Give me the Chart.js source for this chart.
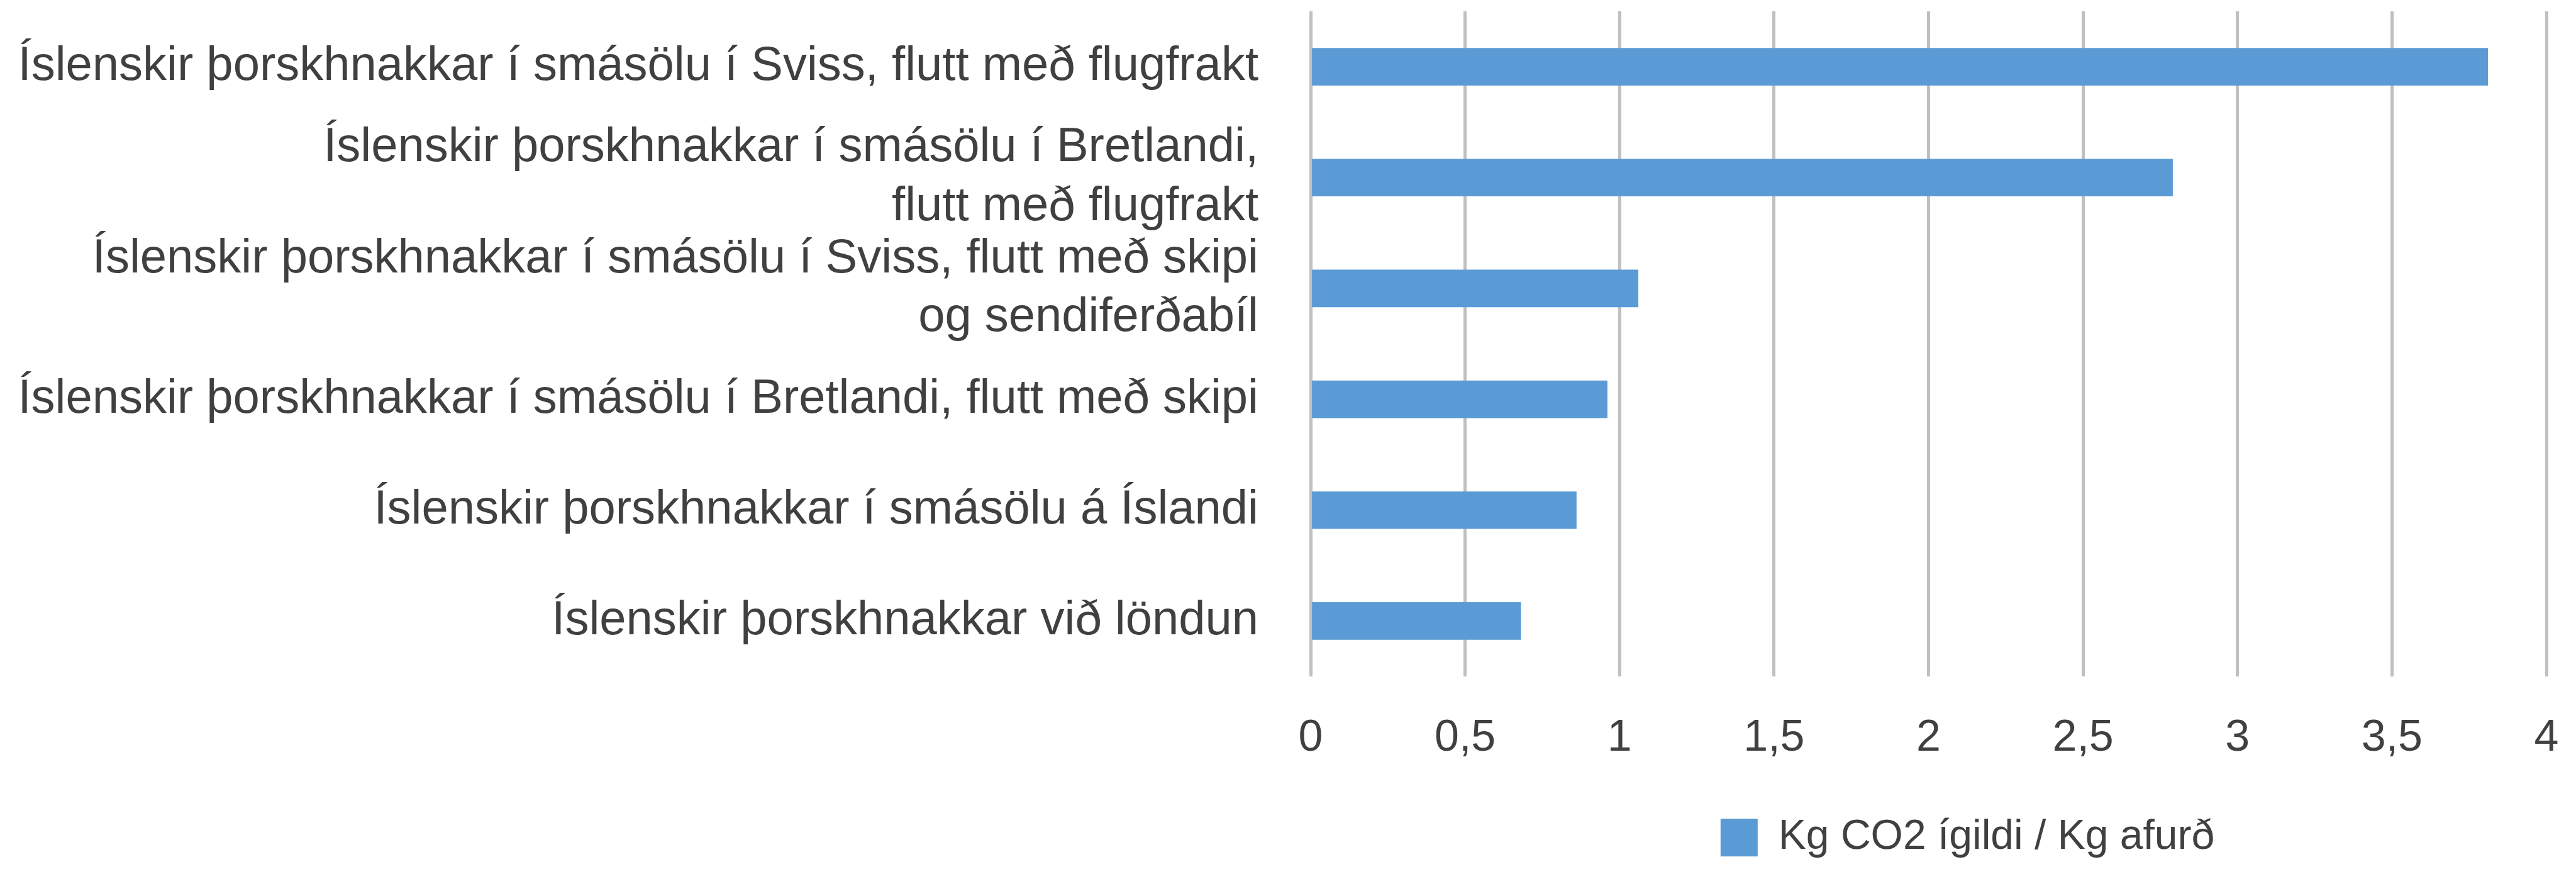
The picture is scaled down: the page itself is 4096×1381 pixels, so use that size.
<!DOCTYPE html>
<html><head><meta charset="utf-8">
<script src="https://cdn.jsdelivr.net/npm/chart.js@4.4.0/dist/chart.umd.min.js"></script>
<style>html,body{margin:0;padding:0;background:#fff;overflow:hidden}</style>
</head><body>
<canvas id="c" width="4096" height="1381"></canvas>
<script>
const categories = [
  'Íslenskir þorskhnakkar í smásölu í Sviss, flutt með flugfrakt',
  ['Íslenskir þorskhnakkar í smásölu í Bretlandi,', 'flutt með flugfrakt'],
  ['Íslenskir þorskhnakkar í smásölu í Sviss, flutt með skipi', 'og sendiferðabíl'],
  'Íslenskir þorskhnakkar í smásölu í Bretlandi, flutt með skipi',
  'Íslenskir þorskhnakkar í smásölu á Íslandi',
  'Íslenskir þorskhnakkar við löndun'
];
const seriesLabel = 'Kg CO2 ígildi / Kg afurð';
const values = [3.81, 2.79, 1.06, 0.96, 0.86, 0.68];
const xTicks = [0, 0.5, 1, 1.5, 2, 2.5, 3, 3.5, 4];
const xTickLabels = ['0', '0,5', '1', '1,5', '2', '2,5', '3', '3,5', '4'];

const FONT = "'Liberation Sans', Arial, sans-serif";
const TEXT = '#404040';
const LEGEND_SHIFT = 62;

const legendShift = {
  id: 'legendShift',
  afterLayout(chart) {
    const l = chart.legend;
    if (l) { l.left += LEGEND_SHIFT; l.right += LEGEND_SHIFT; }
  }
};

new Chart(document.getElementById('c'), {
  type: 'bar',
  data: {
    labels: categories,
    datasets: [{
      label: seriesLabel,
      data: values,
      backgroundColor: '#5B9BD5',
      borderWidth: 0,
      barThickness: 59
    }]
  },
  plugins: [legendShift],
  options: {
    indexAxis: 'y',
    responsive: false,
    animation: false,
    devicePixelRatio: 1,
    layout: { padding: { top: 18, right: 47, bottom: 7, left: 0 } },
    scales: {
      x: {
        type: 'linear',
        min: xTicks[0],
        max: xTicks[xTicks.length - 1],
        afterBuildTicks: (s) => { s.ticks = xTicks.map(v => ({ value: v })); },
        afterFit: (s) => { s.height = 141; s.paddingLeft = 0; s.paddingRight = 0; },
        ticks: {
          padding: 57,
          autoSkip: false,
          maxRotation: 0,
          color: TEXT,
          font: { family: FONT, size: 70 },
          callback: (v) => { const i = xTicks.indexOf(v); return i >= 0 ? xTickLabels[i] : ''; }
        },
        grid: { color: '#C0C0C0', lineWidth: 5, drawTicks: false },
        border: { display: false }
      },
      y: {
        afterFit: (s) => { s.width = 2084; s.paddingTop = 0; s.paddingBottom = 0; },
        ticks: {
          padding: 83,
          autoSkip: false,
          color: TEXT,
          font: { family: FONT, size: 76, lineHeight: 1.23 }
        },
        grid: { display: false, drawTicks: false },
        border: { display: false }
      }
    },
    plugins: {
      tooltip: { enabled: false },
      legend: {
        position: 'bottom',
        fullSize: false,
        labels: {
          boxWidth: 59,
          boxHeight: 60,
          padding: 82,
          color: TEXT,
          font: { family: FONT, size: 66 }
        }
      }
    }
  }
});
</script>
</body></html>
